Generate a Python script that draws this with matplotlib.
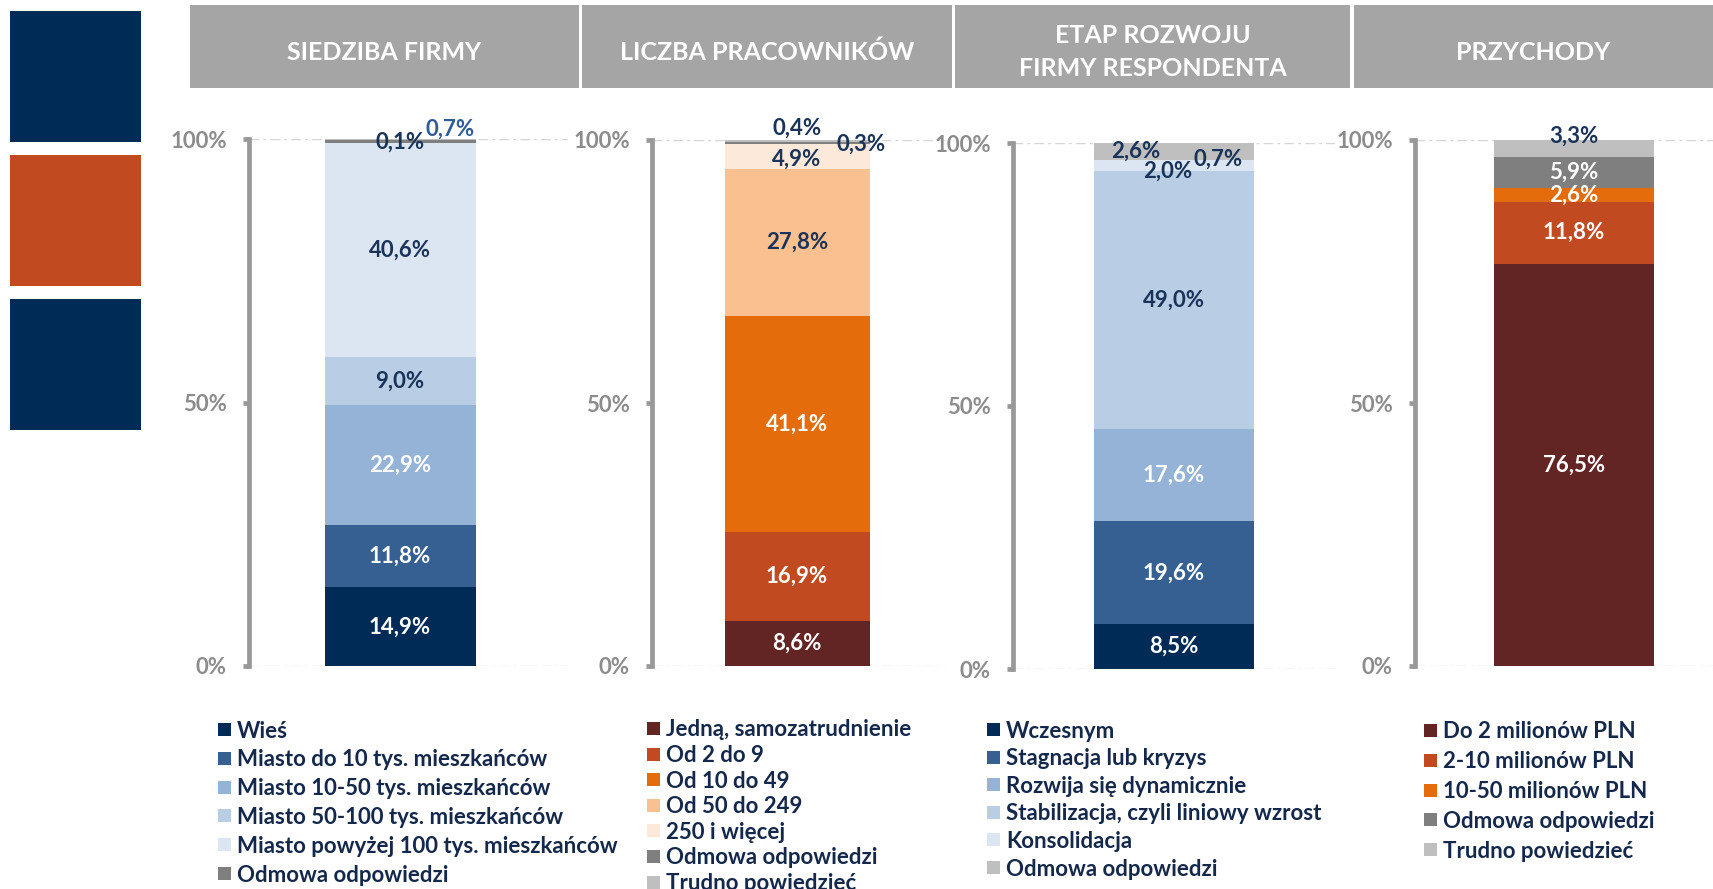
import matplotlib
matplotlib.use("Agg")
import matplotlib.pyplot as plt
from matplotlib.patches import Rectangle

plt.rcParams["font.family"] = ["Lato", "DejaVu Sans"]
plt.rcParams["font.weight"] = "bold"

# --- data -------------------------------------------------------------
titles = ["SIEDZIBA FIRMY", "LICZBA PRACOWNIKÓW", "ETAP ROZWOJU\nFIRMY RESPONDENTA", "PRZYCHODY"]

siedziba_labels = ["Wieś", "Miasto do 10 tys. mieszkańców", "Miasto 10-50 tys. mieszkańców",
                   "Miasto 50-100 tys. mieszkańców", "Miasto powyżej 100 tys. mieszkańców",
                   "Odmowa odpowiedzi"]
siedziba_values = [14.9, 11.8, 22.9, 9.0, 40.6, 0.7, 0.1]

pracownicy_labels = ["Jedną, samozatrudnienie", "Od 2 do 9", "Od 10 do 49", "Od 50 do 249",
                     "250 i więcej", "Odmowa odpowiedzi", "Trudno powiedzieć"]
pracownicy_values = [8.6, 16.9, 41.1, 27.8, 4.9, 0.4, 0.3]

etap_labels = ["Wczesnym", "Stagnacja lub kryzys", "Rozwija się dynamicznie",
               "Stabilizacja, czyli liniowy wzrost", "Konsolidacja", "Odmowa odpowiedzi"]
etap_values = [8.5, 19.6, 17.6, 49.0, 2.0, 2.6, 0.7]

przychody_labels = ["Do 2 milionów PLN", "2-10 milionów PLN", "10-50 milionów PLN",
                    "Odmowa odpowiedzi", "Trudno powiedzieć"]
przychody_values = [76.5, 11.8, 2.6, 5.9, 3.3]

yticks = [0, 50, 100]
ytick_labels = ["0%", "50%", "100%"]

# --- styles -----------------------------------------------------------
NAVY = "#012B57"
W = "white"
N = "#1A3358"
B = "#2E5C99"
blue_cols = ["#012B57", "#366092", "#95B3D7", "#B9CDE5", "#DCE6F2", "#7F7F7F", "#BFBFBF"]
orange_cols = ["#632523", "#C24A21", "#E46C0A", "#FAC090", "#FDE9D9", "#7F7F7F", "#BFBFBF"]
etap_cols = ["#012B57", "#366092", "#95B3D7", "#B9CDE5", "#DCE6F2", "#BFBFBF", "#BFBFBF"]
przych_cols = ["#632523", "#C24A21", "#E46C0A", "#7F7F7F", "#BFBFBF"]

# layout in pixels of the 1713x889 canvas
FW, FH = 1713, 889
panels = [
    dict(values=siedziba_values, labels=siedziba_labels, colors=blue_cols,
         text_cols=[W, W, W, N, N, B, N],
         label_pos={5: (0.33, 101.9), 6: (0.0, 99.3)},
         spine_x=249, right_x=568, top_y=139, bottom_y=666, bar_cx=400, bar_w=151,
         leg_x=218, leg_y=731, leg_step=28.8),
    dict(values=pracownicy_values, labels=pracownicy_labels, colors=orange_cols,
         text_cols=[W, W, W, N, N, N, N],
         label_pos={4: (0.0, 96.4), 5: (0.0, 102.2), 6: (0.44, 99.2)},
         spine_x=652, right_x=945, top_y=140, bottom_y=666, bar_cx=797, bar_w=145,
         leg_x=647, leg_y=730, leg_step=25.6),
    dict(values=etap_values, labels=etap_labels, colors=etap_cols,
         text_cols=[W, W, W, N, N, N, N],
         label_pos={4: (-0.04, 94.6), 5: (-0.24, 98.5), 6: (0.275, 96.9)},
         spine_x=1013, right_x=1335, top_y=143, bottom_y=669, bar_cx=1174, bar_w=160,
         leg_x=987, leg_y=731, leg_step=27.6),
    dict(values=przychody_values, labels=przychody_labels, colors=przych_cols,
         text_cols=[W, W, W, W, N],
         label_pos={4: (0.0, 100.7)},
         spine_x=1415, right_x=1713, top_y=140, bottom_y=666, bar_cx=1574, bar_w=160,
         leg_x=1424, leg_y=732, leg_step=29.8),
]
headers_x = [(190, 579), (582, 952), (955, 1350), (1354, 1713)]


def fx(px):
    return px / FW


def fy(py):
    return 1 - py / FH


fig = plt.figure(figsize=(FW / 100, FH / 100), dpi=100)
fig.patch.set_facecolor("white")

# decorative blocks on the left
for (y0, y1), c in zip([(11, 142), (155, 286), (299, 430)], [NAVY, "#C24A21", NAVY]):
    fig.add_artist(Rectangle((fx(10), fy(y1)), fx(141) - fx(10), fy(y0) - fy(y1),
                             transform=fig.transFigure, color=c, lw=0))

# grey header boxes
for (x0, x1), title in zip(headers_x, titles):
    fig.add_artist(Rectangle((fx(x0), fy(88)), fx(x1) - fx(x0), fy(5) - fy(88),
                             transform=fig.transFigure, color="#A5A5A5", lw=0))
    fig.text(fx((x0 + x1) / 2), fy(52), title, color="white", fontsize=18,
             fontweight="bold", ha="center", va="center", linespacing=1.55)

for p in panels:
    ax = fig.add_axes([fx(p["spine_x"]), fy(p["bottom_y"]),
                       fx(p["right_x"]) - fx(p["spine_x"]), fy(p["top_y"]) - fy(p["bottom_y"])])
    left = (p["spine_x"] - p["bar_cx"]) / p["bar_w"]
    right = (p["right_x"] - p["bar_cx"]) / p["bar_w"]
    ax.set_xlim(left, right)
    ax.set_ylim(0, 100)

    bottom = 0
    for i, (v, c) in enumerate(zip(p["values"], p["colors"])):
        ax.bar(0, v, bottom=bottom, width=1.0, color=c, lw=0, zorder=2)
        dx, ty = p["label_pos"].get(i, (0.0, bottom + v / 2))
        ax.text(dx, ty, f"{v:.1f}".replace(".", ",") + "%", ha="center", va="center",
                color=p["text_cols"][i], fontsize=16, fontweight="bold", zorder=3, clip_on=False)
        bottom += v

    for gy in (0, 100):
        ax.axhline(gy, color="#D5D5D5", lw=1, ls=(0, (7, 3, 2, 3)), zorder=1)

    for side in ("top", "right", "bottom"):
        ax.spines[side].set_visible(False)
    ax.spines["left"].set_color("#999999")
    ax.spines["left"].set_linewidth(3.4)
    ax.set_xticks([])
    ax.set_yticks(yticks)
    ax.set_yticklabels(ytick_labels)
    ax.tick_params(axis="y", length=4, width=3.4, color="#999999", pad=12,
                   labelsize=16, labelcolor="#8C8C8C")
    for t in ax.get_yticklabels():
        t.set_fontweight("bold")
    ax.patch.set_alpha(0)

    # legend, one row per category
    for j, (lab, c) in enumerate(zip(p["labels"], p["colors"])):
        cy = p["leg_y"] + j * p["leg_step"]
        fig.add_artist(Rectangle((fx(p["leg_x"]), fy(cy + 5)), fx(13), fy(0) - fy(13),
                                 transform=fig.transFigure, color=c, lw=0))
        fig.text(fx(p["leg_x"] + 19), fy(cy), lab, color="#14284B", fontsize=16,
                 fontweight="bold", ha="left", va="center")

fig.savefig("out.png", dpi=100)
